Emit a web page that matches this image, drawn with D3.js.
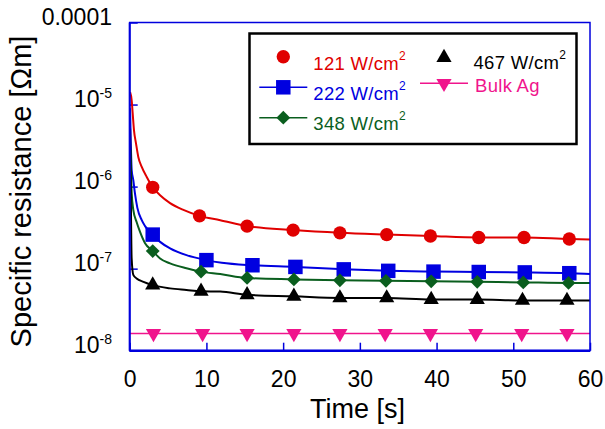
<!DOCTYPE html>
<html lang="en">
<head>
<meta charset="UTF-8">
<title>Specific resistance vs time</title>
<script src="https://d3js.org/d3.v7.min.js"></script>
<style>
    body { margin: 0; background: #fff; }
    svg { display: block; font-family: "Liberation Sans", Arial, sans-serif; }
    .tick line { stroke: #0000dd; stroke-width: 1.5px; }
</style>
</head>
<body>
<div id="chart"></div>
<script>
    // tick values
    const xTicks = [0, 10, 20, 30, 40, 50, 60];
    const yTicks = [1e-8, 1e-7, 1e-6, 1e-5, 1e-4];

    // 121 W/cm2 (red circles)
    const redLineT = [0.05, 0.26, 0.39, 0.56, 0.82, 1.12, 1.57, 2.22, 3.0, 3.96, 5.26, 7.0, 9.1, 11.8, 15.3, 21.3, 27.4, 33.5, 39.2, 45.5, 51.4, 57.3, 60];
    const redLineV = [1.42e-5, 1.12e-5, 7.8e-6, 4.85e-6, 3.37e-6, 2.3e-6, 1.74e-6, 1.31e-6, 9.8e-7, 7.85e-7, 6.3e-7, 5.2e-7, 4.4e-7, 3.9e-7, 3.3e-7, 2.95e-7, 2.73e-7, 2.6e-7, 2.5e-7, 2.4e-7, 2.4e-7, 2.3e-7, 2.27e-7];
    const redMarkT = [3.0, 9.1, 15.3, 21.3, 27.4, 33.5, 39.2, 45.5, 51.4, 57.3];
    const redMarkV = [9.8e-7, 4.4e-7, 3.3e-7, 2.95e-7, 2.73e-7, 2.6e-7, 2.5e-7, 2.4e-7, 2.4e-7, 2.3e-7];

    // 222 W/cm2 (blue squares)
    const blueLineT = [0.05, 0.26, 0.47, 0.69, 1.0, 1.57, 2.0, 3.0, 3.96, 5.26, 7.4, 10.0, 12.0, 16.0, 21.6, 27.9, 33.7, 39.6, 45.5, 51.5, 57.3, 60];
    const blueLineV = [9.0e-6, 1.58e-6, 1.2e-6, 8.2e-7, 5.5e-7, 3.9e-7, 3.3e-7, 2.6e-7, 2.12e-7, 1.77e-7, 1.46e-7, 1.27e-7, 1.18e-7, 1.1e-7, 1.05e-7, 9.8e-8, 9.4e-8, 9.2e-8, 9.1e-8, 9.0e-8, 8.8e-8, 8.6e-8];
    const blueMarkT = [3.0, 10.0, 16.0, 21.6, 27.9, 33.7, 39.6, 45.5, 51.5, 57.3];
    const blueMarkV = [2.6e-7, 1.27e-7, 1.1e-7, 1.05e-7, 9.8e-8, 9.4e-8, 9.2e-8, 9.1e-8, 9.0e-8, 8.8e-8];

    // 348 W/cm2 (green diamonds)
    const greenLineT = [0.1, 0.26, 0.47, 0.9, 1.35, 2.0, 3.0, 3.96, 5.26, 7.4, 9.3, 11.8, 15.3, 21.4, 27.4, 33.4, 39.3, 45.3, 51.3, 57.2, 60];
    const greenLineV = [2.8e-6, 8.3e-7, 5.2e-7, 3.7e-7, 2.8e-7, 2.04e-7, 1.64e-7, 1.33e-7, 1.16e-7, 1.01e-7, 9.2e-8, 8.6e-8, 7.7e-8, 7.4e-8, 7.2e-8, 7.1e-8, 7.0e-8, 6.9e-8, 6.8e-8, 6.7e-8, 6.7e-8];
    const greenMarkT = [3.0, 9.3, 15.3, 21.4, 27.4, 33.4, 39.3, 45.3, 51.3, 57.2];
    const greenMarkV = [1.64e-7, 9.2e-8, 7.7e-8, 7.4e-8, 7.2e-8, 7.1e-8, 7.0e-8, 6.9e-8, 6.8e-8, 6.7e-8];

    // 467 W/cm2 (black triangles)
    const blackLineT = [0.05, 0.15, 0.25, 0.47, 0.9, 1.8, 3.0, 5.26, 7.4, 9.3, 11.8, 15.3, 21.4, 27.4, 33.5, 39.3, 45.3, 51.2, 57.0, 60];
    const blackLineV = [5.1e-6, 6.8e-7, 1.35e-7, 8.4e-8, 7.6e-8, 6.9e-8, 6.3e-8, 5.75e-8, 5.5e-8, 5.3e-8, 5.25e-8, 4.8e-8, 4.6e-8, 4.4e-8, 4.4e-8, 4.2e-8, 4.2e-8, 4.1e-8, 4.1e-8, 4.1e-8];
    const blackMarkT = [3.0, 9.3, 15.3, 21.4, 27.4, 33.5, 39.3, 45.3, 51.2, 57.0];
    const blackMarkV = [6.3e-8, 5.3e-8, 4.8e-8, 4.6e-8, 4.4e-8, 4.4e-8, 4.2e-8, 4.2e-8, 4.1e-8, 4.1e-8];

    // Bulk Ag (pink inverted triangles)
    const bulkLineT = [0, 60];
    const bulkLineV = [1.62e-8, 1.62e-8];
    const bulkMarkT = [3.1, 9.5, 15.3, 21.4, 27.4, 33.3, 39.2, 45.1, 51.1, 57.0];
    const bulkMarkV = [1.62e-8, 1.62e-8, 1.62e-8, 1.62e-8, 1.62e-8, 1.62e-8, 1.62e-8, 1.62e-8, 1.62e-8, 1.62e-8];

    const seriesLabels = ["121 W/cm", "222 W/cm", "348 W/cm", "467 W/cm", "Bulk Ag"];

    const zip = (t, v) => t.map((d, i) => ({t: d, v: v[i]}));

    const series = [
        {label: seriesLabels[0], sup: true, color: "#e00000", shape: "circle", line: zip(redLineT, redLineV), marks: zip(redMarkT, redMarkV), legendLine: false, lw: 2},
        {label: seriesLabels[1], sup: true, color: "#0000e0", shape: "square", line: zip(blueLineT, blueLineV), marks: zip(blueMarkT, blueMarkV), legendLine: true, lw: 2},
        {label: seriesLabels[2], sup: true, color: "#0a5e1e", shape: "diamond", line: zip(greenLineT, greenLineV), marks: zip(greenMarkT, greenMarkV), legendLine: true, lw: 2},
        {label: seriesLabels[3], sup: true, color: "#000000", shape: "triangle", line: zip(blackLineT, blackLineV), marks: zip(blackMarkT, blackMarkV), legendLine: false, lw: 2},
        {label: seriesLabels[4], sup: false, color: "#f0148c", shape: "down", line: zip(bulkLineT, bulkLineV), marks: zip(bulkMarkT, bulkMarkV), legendLine: true, lw: 1.4}
    ];

    const width = 605, height = 429;
    const plotLeft = 129.7, plotRight = 590, plotTop = 22.5, plotBottom = 350.7;

    const svg = d3.select("#chart").append("svg")
        .attr("width", width)
        .attr("height", height);

    const x = d3.scaleLinear().domain([0, 60]).range([plotLeft, plotRight]);
    const y = d3.scaleLog().domain([1e-8, 1e-4]).range([plotBottom, plotTop]);

    // marker drawing
    function symbolPath(shape) {
        if (shape === "circle") return d3.symbol(d3.symbolCircle, 140)();
        if (shape === "square") return d3.symbol(d3.symbolSquare, 210)();
        if (shape === "diamond") return d3.symbol(d3.symbolSquare, 95)();
        return d3.symbol(d3.symbolTriangle, 100)();
    }
    function symbolRotate(shape) {
        if (shape === "diamond") return 45;
        if (shape === "down") return 180;
        return 0;
    }

    const line = d3.line()
        .x(d => x(d.t))
        .y(d => y(d.v))
        .curve(d3.curveMonotoneX);

    // ticks (inward)
    const xAxis = svg.append("g")
        .attr("transform", `translate(0,${plotBottom})`)
        .call(d3.axisBottom(x).tickValues(xTicks).tickSize(-8).tickFormat(d => d));
    xAxis.select(".domain").remove();
    xAxis.selectAll("text")
        .attr("y", 36)
        .attr("dy", 0)
        .attr("fill", "#000")
        .style("font-size", "23px");

    const yAxis = svg.append("g")
        .attr("transform", `translate(${plotLeft},0)`)
        .call(d3.axisLeft(y).tickValues(yTicks).tickSize(-8).tickFormat(""));
    yAxis.select(".domain").remove();

    // y labels
    yTicks.forEach(v => {
        const e = Math.round(Math.log10(v));
        const t = svg.append("text")
            .attr("x", 112)
            .attr("y", y(v) + 2.5)
            .attr("text-anchor", "end")
            .style("font-size", "23px")
            .attr("fill", "#000");
        if (e === -4) {
            t.text("0.0001");
        } else {
            t.append("tspan").text("10");
            t.append("tspan").attr("dy", -9).style("font-size", "14px").text(String(e));
        }
    });

    // data lines
    series.forEach(s => {
        svg.append("path")
            .datum(s.line)
            .attr("fill", "none")
            .attr("stroke", s.color)
            .attr("stroke-width", s.lw)
            .attr("d", line);
    });

    // markers
    series.forEach(s => {
        svg.append("g").selectAll("path")
            .data(s.marks)
            .join("path")
            .attr("d", symbolPath(s.shape))
            .attr("fill", s.color)
            .attr("transform", d => `translate(${x(d.t)},${y(d.v)}) rotate(${symbolRotate(s.shape)})`);
    });

    // frame
    svg.append("rect")
        .attr("x", plotLeft)
        .attr("y", plotTop)
        .attr("width", plotRight - plotLeft)
        .attr("height", plotBottom - plotTop)
        .attr("fill", "none")
        .attr("stroke", "#0000dd")
        .attr("stroke-width", 1.5);
    svg.append("line")
        .attr("x1", plotLeft).attr("x2", plotRight)
        .attr("y1", plotBottom).attr("y2", plotBottom)
        .attr("stroke", "#0000dd").attr("stroke-width", 2.5);
    svg.append("line")
        .attr("x1", plotLeft).attr("x2", plotLeft)
        .attr("y1", plotTop).attr("y2", plotBottom)
        .attr("stroke", "#0000dd").attr("stroke-width", 2);

    // legend
    svg.append("rect")
        .attr("x", 249.5).attr("y", 33.5)
        .attr("width", 327).attr("height", 110.5)
        .attr("fill", "#fff")
        .attr("stroke", "#000")
        .attr("stroke-width", 2.5);

    const legendPos = [
        {mx: 283.3, my: 56.7, tx: 313.3, ty: 70},
        {mx: 283.3, my: 87.3, tx: 313.3, ty: 99.5},
        {mx: 283.3, my: 117.7, tx: 313.3, ty: 129.5},
        {mx: 444, my: 57.5, tx: 473.5, ty: 69},
        {mx: 444, my: 83.3, tx: 475, ty: 91.5}
    ];

    series.forEach((s, i) => {
        const p = legendPos[i];
        if (s.legendLine) {
            svg.append("line")
                .attr("x1", p.mx - 24).attr("x2", p.mx + 24)
                .attr("y1", p.my).attr("y2", p.my)
                .attr("stroke", s.color)
                .attr("stroke-width", s.lw > 1.5 ? 1.5 : s.lw);
        }
        svg.append("path")
            .attr("d", symbolPath(s.shape))
            .attr("fill", s.color)
            .attr("transform", `translate(${p.mx},${p.my}) rotate(${symbolRotate(s.shape)})`);
        const t = svg.append("text")
            .attr("x", p.tx)
            .attr("y", p.ty)
            .attr("fill", s.color)
            .style("font-size", "18.5px")
            .style("letter-spacing", "0.3px");
        t.append("tspan").text(s.label);
        if (s.sup) {
            t.append("tspan").attr("dy", -10).style("font-size", "12px").text("2");
        }
    });

    // axis titles
    svg.append("text")
        .attr("x", 357.5)
        .attr("y", 417.5)
        .attr("text-anchor", "middle")
        .style("font-size", "27px")
        .text("Time [s]");

    svg.append("text")
        .attr("transform", "translate(31,191.5) rotate(-90)")
        .attr("text-anchor", "middle")
        .style("font-size", "29px")
        .text("Specific resistance [Ωm]");
</script>
</body>
</html>
